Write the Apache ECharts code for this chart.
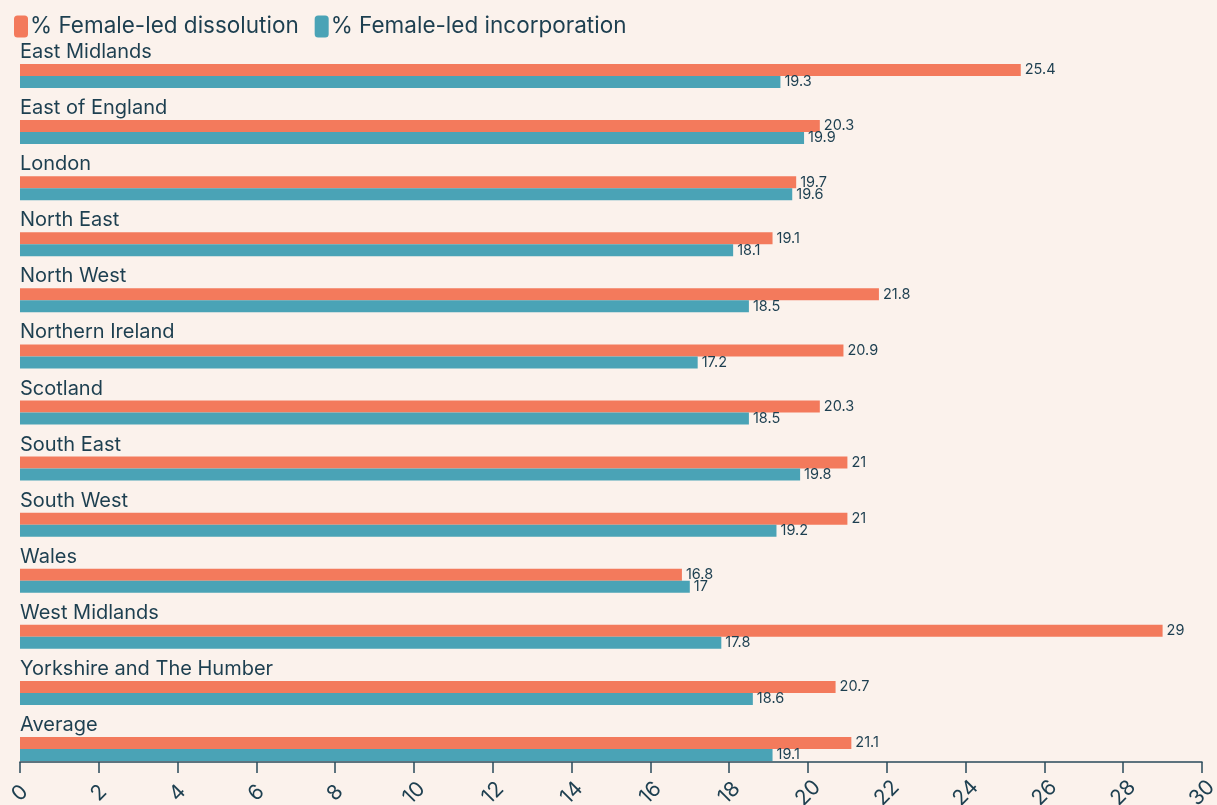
<!DOCTYPE html>
<html><head><meta charset="utf-8">
<script src="https://cdn.jsdelivr.net/npm/echarts@6/dist/echarts.min.js"></script>
<style>html,body{margin:0;padding:0;background:#fbf2ec}#c{width:1217px;height:805px}</style>
</head><body><div id="c"></div>
<script>
const categories = ['East Midlands','East of England','London','North East','North West','Northern Ireland','Scotland','South East','South West','Wales','West Midlands','Yorkshire and The Humber','Average'];
const dissolution = [25.4,20.3,19.7,19.1,21.8,20.9,20.3,21,21,16.8,29,20.7,21.1];
const incorporation = [19.3,19.9,19.6,18.1,18.5,17.2,18.5,19.8,19.2,17,17.8,18.6,19.1];
const spacer = categories.map(() => 0);
const TXT = '#1d3f50';
const FONT = 'Inter';
const chart = echarts.init(document.getElementById('c'));
chart.setOption({
  backgroundColor: '#fbf2ec',
  animation: false,
  textStyle: {fontFamily: FONT, color: TXT},
  legend: {
    data: ['% Female-led dissolution', '% Female-led incorporation'],
    left: 9, top: 10, itemWidth: 14, itemHeight: 22, itemGap: 16,
    icon: 'roundRect',
    textStyle: {fontSize: 22.5, color: TXT, fontFamily: FONT, padding: [0,0,0,-3]}
  },
  grid: {left: 20, right: 15, top: 33, bottom: 43, containLabel: false, outerBoundsMode: 'none'},
  xAxis: {
    type: 'value', min: 0, max: 30, interval: 2,
    axisLine: {show: true, lineStyle: {color: '#2a4a5a', width: 1.5}},
    axisTick: {show: true, length: 11, lineStyle: {color: '#2a4a5a', width: 1.5}},
    splitLine: {show: false},
    axisLabel: {rotate: 45, fontSize: 21, color: TXT, margin: 31, fontFamily: FONT, align: 'center', verticalAlign: 'middle'}
  },
  yAxis: {
    type: 'category', data: categories, inverse: true,
    axisLine: {show: false}, axisTick: {show: false},
    axisLabel: {inside: true, align: 'left', verticalAlign: 'bottom', margin: 0, fontSize: 20, color: TXT, fontFamily: FONT, lineHeight: 18}
  },
  series: [
    {name: 'spacer', type: 'bar', data: spacer, barWidth: 30, barGap: 0, itemStyle: {color: 'transparent'}, silent: true},
    {name: '% Female-led dissolution', type: 'bar', data: dissolution, barWidth: 12, barGap: 0,
     itemStyle: {color: '#f37a5c'},
     label: {show: true, position: 'right', distance: 4, fontSize: 14.5, color: TXT, fontFamily: FONT}},
    {name: '% Female-led incorporation', type: 'bar', data: incorporation, barWidth: 12, barGap: 0,
     itemStyle: {color: '#4aa3b6'},
     label: {show: true, position: 'right', distance: 4, fontSize: 14.5, color: TXT, fontFamily: FONT}}
  ]
});
</script></body></html>
